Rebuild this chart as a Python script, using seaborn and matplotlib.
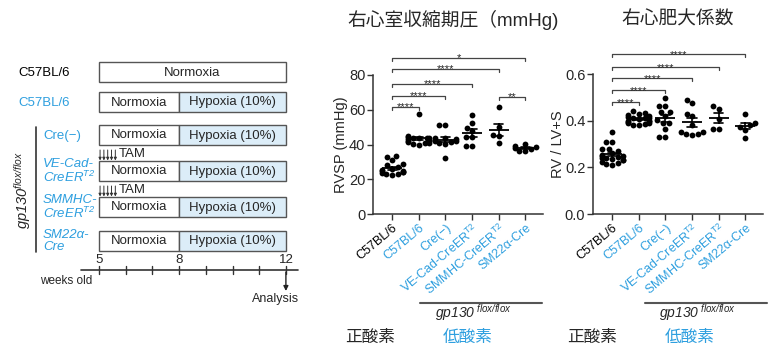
import numpy as np
import pandas as pd
import matplotlib
matplotlib.use("Agg")
import matplotlib.pyplot as plt
from matplotlib.lines import Line2D
import seaborn as sns

# ---------------- data ----------------
group_keys = ["wt_norm", "wt_hyp", "cre_neg", "vecad", "smmhc", "sm22"]
tick_labels = ["C57BL/6", "C57BL/6", "Cre(−)", "VE-Cad-CreER$^{\\mathsf{T2}}$",
               "SMMHC-CreER$^{\\mathsf{T2}}$", "SM22α-Cre"]
tick_colors = ["black", "blue", "blue", "blue", "blue", "blue"]

rvsp_wt_norm = [33.0, 33.5, 31.0, 29.0, 28.0, 27.0, 26.0, 25.0, 24.5, 24.0, 23.5, 23.0, 23.0, 22.5, 24.0, 25.5]
rvsp_wt_hyp = [57.4, 45.0, 44.5, 44.0, 43.5, 43.0, 42.5, 42.0, 41.5, 41.0, 40.5, 40.0, 41.0, 42.0, 43.5, 44.0]
rvsp_cre_neg = [51.0, 51.0, 44.0, 43.5, 43.0, 42.5, 42.0, 42.0, 41.5, 41.0, 40.5, 32.0]
rvsp_vecad = [57.0, 52.4, 49.5, 47.7, 44.5, 44.2, 39.0, 39.0]
rvsp_smmhc = [61.4, 50.1, 45.5, 44.9, 40.9]
rvsp_sm22 = [40.5, 39.0, 38.5, 38.0, 37.5, 36.5, 36.5]

rvlv_wt_norm = [0.35, 0.31, 0.31, 0.28, 0.28, 0.27, 0.26, 0.255, 0.25, 0.245, 0.24, 0.235,
                0.23, 0.225, 0.22, 0.215, 0.21, 0.24, 0.25, 0.23]
rvlv_wt_hyp = [0.44, 0.435, 0.43, 0.425, 0.42, 0.415, 0.41, 0.41, 0.405, 0.40, 0.40, 0.395,
               0.39, 0.39, 0.385, 0.38, 0.38, 0.40, 0.41]
rvlv_cre_neg = [0.499, 0.463, 0.463, 0.437, 0.437, 0.419, 0.402, 0.388, 0.388, 0.366, 0.33, 0.33]
rvlv_vecad = [0.49, 0.476, 0.43, 0.419, 0.38, 0.352, 0.345, 0.345, 0.352, 0.338]
rvlv_smmhc = [0.452, 0.462, 0.409, 0.366, 0.366]
rvlv_sm22 = [0.43, 0.388, 0.38, 0.373, 0.362, 0.326]

rvsp_comparisons = [(0, 1, "****", 61.6), (0, 2, "****", 67.9), (0, 3, "****", 74.8),
                    (0, 4, "****", 83.5), (0, 5, "*", 89.8), (4, 5, "**", 67.3)]
rvlv_comparisons = [(0, 1, "****", 0.479), (0, 2, "****", 0.530), (0, 3, "****", 0.581),
                    (0, 4, "****", 0.628), (0, 5, "****", 0.684)]

rvsp_title = "右心室収縮期圧（mmHg)"
rvlv_title = "右心肥大係数"
rvsp_ylabel = "RVSP (mmHg)"
rvlv_ylabel = "RV / LV+S"
rvsp_yticks = [0, 20, 40, 60, 80]
rvlv_yticks = [0.0, 0.2, 0.4, 0.6]
rvlv_yticklabels = ["0.0", "0.2", "0.4", "0.6"]

# schematic
sch_labels = ["C57BL/6", "C57BL/6", "Cre(−)", "VE-Cad-\nCreER$^{T2}$",
              "SMMHC-\nCreER$^{T2}$", "SM22α-\nCre"]
sch_colors = ["black", "blue", "blue", "blue", "blue", "blue"]
sch_italic = [False, False, False, True, True, True]
norm_start = [5, 5, 5, 5, 5, 5]
norm_end = [12, 8, 8, 8, 8, 8]
hyp_start = [None, 8, 8, 8, 8, 8]
hyp_end = [None, 12, 12, 12, 12, 12]
week_ticks = [5, 6, 7, 8, 9, 10, 11, 12]
week_ticklabels = {5: "5", 8: "8", 12: "12"}
tam_days = [0, 1, 2, 3, 4]
tam_rows = [3, 4]

# ---------------- style ----------------
sns.set_style("ticks")
plt.rcParams["font.family"] = ["Liberation Sans", "Noto Sans CJK JP", "DejaVu Sans"]
plt.rcParams["mathtext.fontset"] = "custom"
plt.rcParams["mathtext.rm"] = "Liberation Sans:italic"
plt.rcParams["mathtext.it"] = "Liberation Sans:italic"
plt.rcParams["mathtext.sf"] = "Liberation Sans"
plt.rcParams["mathtext.bf"] = "Liberation Sans:bold"

BLUE = "#2e9fdf"
HYP = "#dcedf8"
EDGE = "#555555"
W, H = 780, 356

fig = plt.figure(figsize=(7.8, 3.56), dpi=100)


def fx(x):
    return x / W


def fy(y):
    return 1 - y / H


def col(c):
    return BLUE if c == "blue" else "black"

# ---------------- schematic ----------------
ax0 = fig.add_axes([0, 0, 330 / W, 1])
ax0.axis("off")
pxw = 26.7
ax0.set_xlim(5 - 99 / pxw, 5 + (330 - 99) / pxw)
ax0.set_ylim(H, 0)
row_y = [72, 102, 135, 171, 207, 240.5]
bh = 20
ns = np.array(norm_start, float)
ne = np.array(norm_end, float)
ax0.barh(row_y, ne - ns, left=ns, height=bh, color="white", edgecolor=EDGE, linewidth=1.0)
hy_idx = [i for i in range(len(row_y)) if hyp_start[i] is not None]
ax0.barh([row_y[i] for i in hy_idx], [hyp_end[i] - hyp_start[i] for i in hy_idx],
         left=[hyp_start[i] for i in hy_idx], height=bh, color=HYP, edgecolor=EDGE, linewidth=1.0)
for i, y in enumerate(row_y):
    ax0.text((norm_start[i] + norm_end[i]) / 2, y + 0.5, "Normoxia", ha="center", va="center", fontsize=9.5)
    if hyp_start[i] is not None:
        ax0.text((hyp_start[i] + hyp_end[i]) / 2, y + 0.5, "Hypoxia (10%)", ha="center", va="center", fontsize=9.5)
    lx = 5 + (18 - 99) / pxw if i < 2 else 5 + (43 - 99) / pxw
    ax0.text(lx, y + 0.5, sch_labels[i], ha="left", va="center", fontsize=9.5,
             color=col(sch_colors[i]), style="italic" if sch_italic[i] else "normal",
             linespacing=0.95)
# TAM arrows
for r in tam_rows:
    ytop = row_y[r] - bh / 2
    for d in tam_days:
        xw = 5 + d / 7 + 0.04
        ax0.annotate("", xy=(xw, ytop - 0.5), xytext=(xw, ytop - 11),
                     arrowprops=dict(arrowstyle="-|>", lw=0.7, color="#333333", mutation_scale=4,
                                     shrinkA=0, shrinkB=0))
    ax0.text(5 + 20 / pxw, ytop - 7, "TAM", ha="left", va="center", fontsize=9.5)
# gp130 bracket
gx = 5 + (36 - 99) / pxw
ax0.plot([gx, gx], [127, 252], color="#333333", lw=1.2)
ax0.text(5 + (23 - 99) / pxw, 190, "$gp130^{flox/flox}$", rotation=90,
         ha="center", va="center", fontsize=10.5)
# time axis
ay = 270
ax0.plot([5 + (81 - 99) / pxw, 5 + (298 - 99) / pxw], [ay, ay], color="#333333", lw=1.2)
for w in week_ticks:
    ax0.plot([w, w], [ay - 4, ay + 4], color="#333333", lw=1.0)
    if w in week_ticklabels:
        ax0.text(w, ay - 10, week_ticklabels[w], ha="center", va="center", fontsize=9.5)
ax0.text(5 + (40 - 99) / pxw, ay + 11, "weeks old", ha="left", va="center", fontsize=8.5)
ax0.annotate("", xy=(12, ay + 21), xytext=(12, ay + 2),
             arrowprops=dict(arrowstyle="-|>", lw=1.0, color="#222222", mutation_scale=7,
                             shrinkA=0, shrinkB=0))
ax0.text(12 - 10.5 / pxw, ay + 29, "Analysis", ha="center", va="center", fontsize=9)

# ---------------- panels ----------------
def make_df(lists):
    rows = []
    for k, vals in zip(group_keys, lists):
        for v in vals:
            rows.append((k, v))
    return pd.DataFrame(rows, columns=["group", "value"])


def panel(rect, df, yticks, yticklabels, ylim, comps, title, title_x, ylabel, ylabel_x, tick_d):
    ax = fig.add_axes(rect)
    sns.swarmplot(data=df, x="group", y="value", order=group_keys, color="black", size=4.2, ax=ax, zorder=3)
    sns.pointplot(data=df, x="group", y="value", order=group_keys, errorbar="se", color="black",
                  linestyle="none", marker="_", markersize=15, markeredgewidth=1.3,
                  capsize=0.35, err_kws={"linewidth": 1.2}, ax=ax, zorder=4)
    ax.set_xlim(-0.72, 5.66)
    ax.set_ylim(*ylim)
    ax.set_yticks(yticks)
    ax.set_yticklabels(yticklabels, fontsize=10.5)
    ax.set_xticks(range(len(group_keys)))
    ax.set_xticklabels(tick_labels, rotation=40, ha="right", rotation_mode="anchor", fontsize=9)
    for t, c in zip(ax.get_xticklabels(), tick_colors):
        t.set_color(col(c))
    ax.set_xlabel("")
    ax.set_ylabel("")
    fig.text(fx(ylabel_x), (rect[1] + rect[1] + rect[3]) / 2, ylabel, rotation=90, ha="center",
             va="center", fontsize=10.5)
    ax.tick_params(axis="both", length=4, width=1, color="#333333", pad=1.5)
    for s in ["top", "right"]:
        ax.spines[s].set_visible(False)
    for s in ["left", "bottom"]:
        ax.spines[s].set_linewidth(1.1)
        ax.spines[s].set_color("#333333")
    for i, j, lab, h in comps:
        ax.plot([i, i, j, j], [h - tick_d, h, h, h - tick_d], color="#444444", lw=0.9, clip_on=False)
        ax.annotate(lab, xy=((i + j) / 2, h), xytext=(0, -2.5), textcoords="offset points",
                    ha="center", va="baseline", fontsize=8, annotation_clip=False)
    fig.text(fx(title_x), fy(20), title, ha="center", va="center", fontsize=13.5)
    return ax


df1 = make_df([rvsp_wt_norm, rvsp_wt_hyp, rvsp_cre_neg, rvsp_vecad, rvsp_smmhc, rvsp_sm22])
df2 = make_df([rvlv_wt_norm, rvlv_wt_hyp, rvlv_cre_neg, rvlv_vecad, rvlv_smmhc, rvlv_sm22])

bot = fy(214)
ax1 = panel([fx(373), bot, fx(543 - 373), fy(75) - bot], df1, rvsp_yticks,
            [str(v) for v in rvsp_yticks], (0, 80), rvsp_comparisons, rvsp_title, 453,
            rvsp_ylabel, 341, 80 / 139 * 3)
ax2 = panel([fx(593), bot, fx(763 - 593), fy(74) - bot], df2, rvlv_yticks,
            rvlv_yticklabels, (0, 0.6), rvlv_comparisons, rvlv_title, 678,
            rvlv_ylabel, 558, 0.6 / 140 * 3)

# bottom annotations
for x0, x1, xc, xn, xh in [(420, 542, 473, 345, 443), (645, 767, 697, 567, 665)]:
    fig.add_artist(Line2D([fx(x0), fx(x1)], [fy(303), fy(303)], color="#555555", lw=1.5))
    fig.text(fx(xc), fy(313), "$gp130^{\\ flox/flox}$", ha="center",
             va="center", fontsize=10)
    fig.text(fx(xn), fy(337), "正酸素", ha="left", va="center", fontsize=12)
    fig.text(fx(xh), fy(337), "低酸素", ha="left", va="center", fontsize=12, color=BLUE)

fig.savefig("out.png", dpi=100)
